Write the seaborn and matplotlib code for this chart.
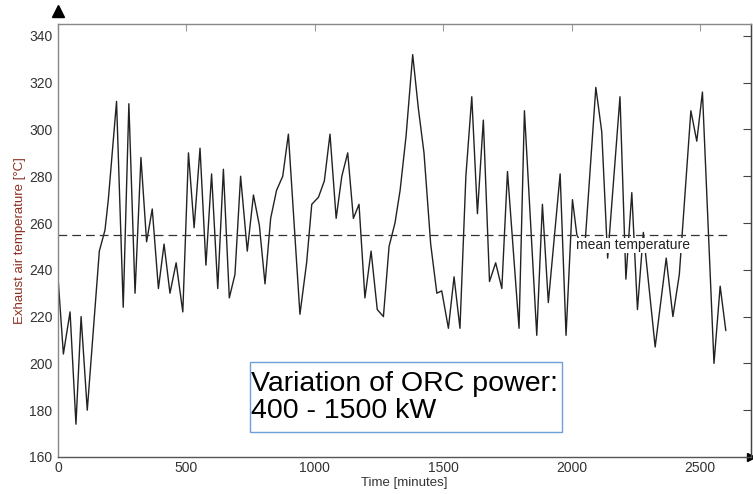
import matplotlib
matplotlib.use('Agg')
import matplotlib.pyplot as plt
import numpy as np
import pandas as pd
import seaborn as sns
from matplotlib.patches import Rectangle

sns.set_style('white')
plt.rcParams['font.family'] = ['Liberation Sans', 'DejaVu Sans']

time_min = [0, 21, 47, 70, 90, 114, 161, 183, 196, 228,
            254, 276, 300, 323, 345, 367, 391, 413, 436, 460,
            486, 508, 530, 553, 576, 598, 622, 644, 667, 689,
            711, 737, 761, 784, 806, 828, 851, 875, 897, 942,
            968, 988, 1014, 1037, 1059, 1083, 1105, 1128, 1150, 1172,
            1195, 1219, 1243, 1267, 1289, 1312, 1332, 1355, 1381, 1403,
            1425, 1451, 1475, 1494, 1520, 1542, 1565, 1588, 1611, 1633,
            1656, 1680, 1704, 1728, 1750, 1795, 1816, 1864, 1886, 1909,
            1955, 1978, 2003, 2020, 2050, 2094, 2117, 2140, 2188, 2211,
            2234, 2256, 2279, 2325, 2368, 2394, 2419, 2464, 2487, 2509,
            2554, 2578, 2600]
temp = [237, 204, 222, 174, 220, 180, 248, 257, 270, 312,
        224, 311, 230, 288, 252, 266, 232, 251, 230, 243,
        222, 290, 258, 292, 242, 281, 232, 283, 228, 238,
        280, 248, 272, 259, 234, 262, 274, 280, 298, 221,
        243, 268, 271, 278, 298, 262, 280, 290, 262, 268,
        228, 248, 223, 220, 250, 260, 274, 297, 332, 309,
        290, 251, 230, 231, 215, 237, 215, 280, 314, 264,
        304, 235, 243, 232, 282, 215, 308, 212, 268, 226,
        281, 212, 270, 255, 248, 318, 299, 245, 314, 236,
        273, 223, 256, 207, 245, 220, 238, 308, 295, 316,
        200, 233, 214]
mean_temp = 255
mean_end = 2610
box_text = 'Variation of ORC power:\n400 - 1500 kW'
box_x = [748, 1963]
box_y = [170.5, 200.5]

df = pd.DataFrame({'time': time_min, 'temp': temp})

fig = plt.figure(figsize=(7.53, 4.94), dpi=100)
ax = fig.add_axes([0.077, 0.075, 0.921, 0.876])
sns.lineplot(data=df, x='time', y='temp', color='#222222', linewidth=1.0, ax=ax)
ax.hlines(mean_temp, 0, mean_end, colors='#333333', linestyles=(0, (7, 4)), linewidth=0.9)
ax.text(2015, mean_temp - 1.5, 'mean temperature', fontsize=10, color='#222222',
        ha='left', va='top', bbox=dict(facecolor='white', edgecolor='none', pad=0.5))

ax.add_patch(Rectangle((box_x[0], box_y[0]), box_x[1] - box_x[0], box_y[1] - box_y[0],
                       facecolor='white', edgecolor='#6f9fd8', linewidth=1.0, zorder=5))
ax.text(box_x[0] + 3, (box_y[0] + box_y[1]) / 2, box_text, fontsize=20.5,
        ha='left', va='center', color='black', linespacing=1.05, zorder=6)

ax.set_xlim(0, 2700)
ax.set_ylim(160, 345)
ax.set_xticks([0, 500, 1000, 1500, 2000, 2500])
ax.set_yticks(np.arange(160, 341, 20))
ax.set_xlabel('Time [minutes]', fontsize=9.5, color='#333333', labelpad=1)
ax.set_ylabel('Exhaust air temperature [°C]', fontsize=9.5, color='#8b3020', labelpad=2)
ax.tick_params(axis='x', direction='in', top=True, length=5, color='#999999',
               labelsize=10, labelcolor='#333333', pad=3)
ax.tick_params(axis='y', direction='out', length=3, color='#6f9fd8',
               labelsize=10, labelcolor='#333333', pad=1)
sec = ax.secondary_yaxis('right')
sec.set_yticks(np.arange(160, 341, 20))
sec.tick_params(direction='in', length=6, color='#444444', labelright=False)
sec.spines['right'].set_color('#444444')

for side in ['left', 'top']:
    ax.spines[side].set_color('#888888')
ax.spines['bottom'].set_color('#555555')
ax.spines['right'].set_color('#444444')
for s in ax.spines.values():
    s.set_linewidth(1.0)

ax.plot([0], [1.03], marker='^', color='black', markersize=8,
        transform=ax.transAxes, clip_on=False)
ax.plot([1.0], [0.0], marker='>', color='black', markersize=6,
        transform=ax.transAxes, clip_on=False)

fig.savefig('out.png', dpi=100)
